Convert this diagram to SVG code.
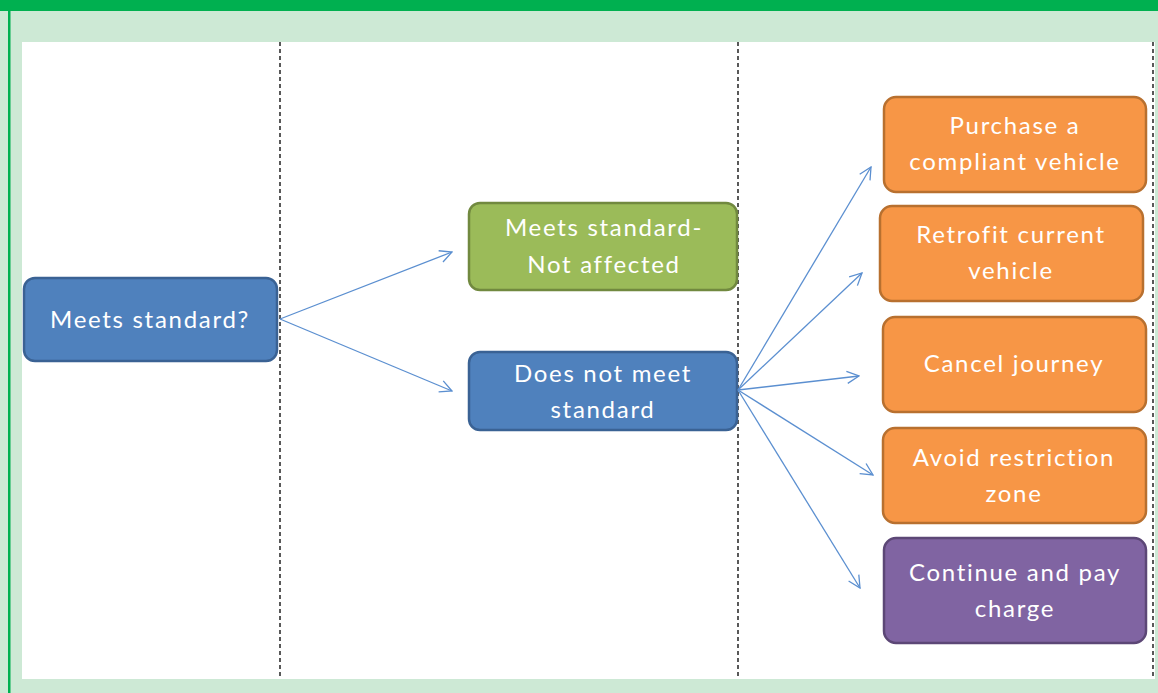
<svg xmlns="http://www.w3.org/2000/svg" width="1158" height="693" viewBox="0 0 1158 693">
<defs>
<style>
.node rect{stroke-width:2.5}
.blue rect{fill:#4F81BD;stroke:#3A6294}
.green rect{fill:#9BBB59;stroke:#71893F}
.orange rect{fill:#F79646;stroke:#B8702F}
.purple rect{fill:#8064A2;stroke:#5C4776}
.node text{font-family:Lato,"Open Sans","Liberation Sans",sans-serif;font-size:24px;letter-spacing:1.7px;fill:#FFFFFF;text-anchor:middle}
.div{stroke:#000;stroke-width:1.3;stroke-dasharray:4,3;fill:none}
#connectors line{stroke:#5B8FD0;stroke-width:1.3;fill:none;marker-end:url(#arr)}
</style>
<marker id="arr" viewBox="0 0 14 14" refX="13" refY="7" markerWidth="14" markerHeight="14" markerUnits="userSpaceOnUse" orient="auto">
<path d="M1,1 L13,7 L1,13" fill="none" stroke="#5B8FD0" stroke-width="1.3"/>
</marker>
</defs>
<rect x="0" y="0" width="1158" height="693" fill="#CDE9D5"/>
<rect x="0" y="0" width="1158" height="11" fill="#00B050"/>
<rect x="8" y="0" width="2.5" height="693" fill="#00B050"/>
<rect x="22" y="42" width="1133" height="637" fill="#FFFFFF"/>
<line class="div" x1="280" y1="42" x2="280" y2="679"/>
<line class="div" x1="738" y1="42" x2="738" y2="679"/>
<line class="div" x1="1153" y1="42" x2="1153" y2="679"/>
<g id="n1" class="node blue"><rect x="24" y="278" width="253" height="83" rx="11"/><text x="150" y="328">Meets standard?</text></g>
<g id="n2" class="node green"><rect x="469" y="203" width="268" height="87" rx="11"/><text x="604" y="236">Meets standard-</text><text x="604" y="273">Not affected</text></g>
<g id="n3" class="node blue"><rect x="469" y="352" width="268" height="78" rx="11"/><text x="603" y="382">Does not meet</text><text x="603" y="418">standard</text></g>
<g id="n4" class="node orange"><rect x="884" y="97" width="262" height="95" rx="12"/><text x="1015" y="134">Purchase a</text><text x="1015" y="170">compliant vehicle</text></g>
<g id="n5" class="node orange"><rect x="880" y="206" width="263" height="95" rx="12"/><text x="1011" y="243">Retrofit current</text><text x="1011" y="279">vehicle</text></g>
<g id="n6" class="node orange"><rect x="883" y="317" width="263" height="95" rx="12"/><text x="1014" y="372">Cancel journey</text></g>
<g id="n7" class="node orange"><rect x="883" y="428" width="263" height="95" rx="12"/><text x="1014" y="466">Avoid restriction</text><text x="1014" y="502">zone</text></g>
<g id="n8" class="node purple"><rect x="884" y="538" width="262" height="105" rx="12"/><text x="1015" y="581">Continue and pay</text><text x="1015" y="617">charge</text></g>
<g id="connectors">
<line x1="280" y1="319" x2="452" y2="252"/>
<line x1="280" y1="319" x2="452" y2="391"/>
<line x1="738" y1="390" x2="871" y2="167"/>
<line x1="738" y1="390" x2="862" y2="273"/>
<line x1="738" y1="390" x2="859" y2="376"/>
<line x1="738" y1="390" x2="873" y2="475"/>
<line x1="738" y1="390" x2="860" y2="588"/>
</g>
</svg>
